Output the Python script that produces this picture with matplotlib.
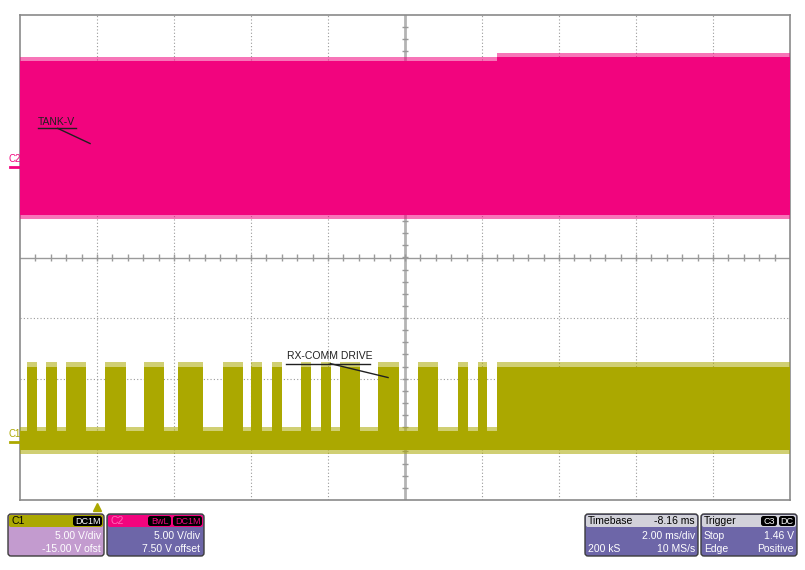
import matplotlib.pyplot as plt
import matplotlib.patches as patches
import numpy as np

# screen is 10 x 8 divisions, values below are in divisions
c1_color = '#aba800'
c2_color = '#f2047e'

# C2 (TANK-V) envelope
c2_top = 3.24
c2_top_right = 3.30
c2_bot = 0.70
c2_spike = 0.07
c2_change = 6.19

# C1 (RX-COMM DRIVE) bursts
burst_start = [0.09, 0.34, 0.60, 1.10, 1.61, 2.05, 2.64, 3.00, 3.27, 3.65, 3.91, 4.16, 4.65, 5.17, 5.69, 5.95, 6.19]
burst_end = [0.22, 0.48, 0.86, 1.38, 1.87, 2.38, 2.90, 3.14, 3.40, 3.78, 4.04, 4.42, 4.92, 5.43, 5.82, 6.06, 10.0]
c1_base_top = -2.86
c1_base_bot = -3.17
c1_burst_top = -1.80
c1_spike = 0.07

W, H = 805, 570
fig = plt.figure(figsize=(W / 100, H / 100), dpi=100)
fig.patch.set_facecolor('white')
plt.rcParams['font.family'] = ['Liberation Sans', 'DejaVu Sans']

ax = fig.add_axes([20 / W, 1 - 500 / H, 770 / W, 485 / H])
ax.set_xlim(0, 10)
ax.set_ylim(-4, 4)
ax.set_xticks([])
ax.set_yticks([])
for s in ax.spines.values():
    s.set_color('#8a8a8a')
    s.set_linewidth(1.2)

# graticule
for gx in range(1, 10):
    if gx != 5:
        ax.axvline(gx, color='#9a9a9a', lw=0.8, ls=(0, (1, 2)), zorder=1)
for gy in range(-3, 4):
    if gy != 0:
        ax.axhline(gy, color='#9a9a9a', lw=0.8, ls=(0, (1, 2)), zorder=1)
ax.axvline(5, color='#b4b4b4', lw=2, zorder=1)
ax.axhline(0, color='#9a9a9a', lw=1, zorder=1)
mx = np.arange(0.2, 10, 0.2)
my = np.arange(-3.8, 4, 0.2)
ax.vlines(mx, -0.05, 0.05, color='#9a9a9a', lw=1, zorder=1)
ax.hlines(my, 4.96, 5.04, color='#9a9a9a', lw=1, zorder=1)

# C2 trace
fringe = 0.55
ax.fill_between([0, c2_change], c2_bot, c2_top, color=c2_color, lw=0, zorder=3)
ax.fill_between([c2_change, 10], c2_bot, c2_top_right, color=c2_color, lw=0, zorder=3)
ax.fill_between([0, c2_change], c2_top, c2_top + c2_spike, color=c2_color, alpha=fringe, lw=0, zorder=3)
ax.fill_between([c2_change, 10], c2_top_right, c2_top_right + c2_spike, color=c2_color, alpha=fringe, lw=0, zorder=3)
ax.fill_between([0, 10], c2_bot - c2_spike, c2_bot, color=c2_color, alpha=fringe, lw=0, zorder=3)

# C1 trace
ax.fill_between([0, 10], c1_base_bot, c1_base_top, color=c1_color, lw=0, zorder=3)
ax.fill_between([0, 10], c1_base_bot - c1_spike, c1_base_bot, color=c1_color, alpha=fringe, lw=0, zorder=3)
ax.fill_between([0, 10], c1_base_top, c1_base_top + c1_spike, color=c1_color, alpha=fringe, lw=0, zorder=3)
for s, e in zip(burst_start, burst_end):
    ax.fill_between([s, e], c1_base_top, c1_burst_top, color=c1_color, lw=0, zorder=3)
    ax.fill_between([s, e], c1_burst_top, c1_burst_top + c1_spike, color=c1_color, alpha=fringe, lw=0, zorder=3)

# annotations
ax.text(0.23, 2.23, 'TANK-V', fontsize=7.5, color='#202020', va='center', zorder=5)
ax.plot([0.23, 0.73], [2.13, 2.13], color='#202020', lw=1, zorder=5)
ax.plot([0.49, 0.91], [2.13, 1.88], color='#202020', lw=1, zorder=5)
ax.text(3.47, -1.63, 'RX-COMM DRIVE', fontsize=7.5, color='#202020', va='center', zorder=5)
ax.plot([3.45, 4.55], [-1.75, -1.75], color='#202020', lw=1, zorder=5)
ax.plot([4.03, 4.78], [-1.75, -1.98], color='#202020', lw=1, zorder=5)

# overlay in pixel coordinates
ov = fig.add_axes([0, 0, 1, 1])
ov.set_xlim(0, W)
ov.set_ylim(H, 0)
ov.axis('off')
ov.patch.set_alpha(0)

ov.text(8, 159, 'C2', fontsize=7, color=c2_color, va='center')
ov.plot([10, 20], [167, 167], color=c2_color, lw=2)
ov.text(8, 434, 'C1', fontsize=7, color=c1_color, va='center')
ov.plot([10, 20], [442, 442], color=c1_color, lw=2)
ov.plot(97, 507, marker='^', color=c1_color, ms=6)


def box(x0, x1, head_color, body_color):
    ov.add_patch(patches.FancyBboxPatch((x0, 514), x1 - x0, 42, boxstyle='round,pad=0,rounding_size=3',
                                        fc=body_color, ec='#3c3c3c', lw=1))
    ov.add_patch(patches.FancyBboxPatch((x0 + 1, 515), x1 - x0 - 2, 12, boxstyle='round,pad=0,rounding_size=2',
                                        fc=head_color, ec='none'))


def tag(x0, x1, label, color):
    ov.add_patch(patches.FancyBboxPatch((x0, 516), x1 - x0, 10, boxstyle='round,pad=0,rounding_size=2.5',
                                        fc='black', ec='none'))
    ov.text((x0 + x1) / 2, 521.5, label, fontsize=6.5, color=color, ha='center', va='center')


fs = 7.5
box(8, 104, c1_color, '#c39bcf')
ov.text(11, 521.5, 'C1', fontsize=fs, color='black', va='center')
tag(73, 102, 'DC1M', 'white')
ov.text(101, 536, '5.00 V/div', fontsize=fs, color='white', ha='right', va='center')
ov.text(101, 549, '-15.00 V ofst', fontsize=fs, color='white', ha='right', va='center')

box(107, 204, c2_color, '#6d66a8')
ov.text(110, 521.5, 'C2', fontsize=fs, color='#ff6ab8', va='center')
tag(148, 171, 'BwL', c2_color)
tag(173, 202, 'DC1M', c2_color)
ov.text(200, 536, '5.00 V/div', fontsize=fs, color='white', ha='right', va='center')
ov.text(200, 549, '7.50 V offset', fontsize=fs, color='white', ha='right', va='center')

box(585, 698, '#d2d2da', '#6d66a8')
ov.text(588, 521.5, 'Timebase', fontsize=fs, color='black', va='center')
ov.text(695, 521.5, '-8.16 ms', fontsize=fs, color='black', ha='right', va='center')
ov.text(695, 536, '2.00 ms/div', fontsize=fs, color='white', ha='right', va='center')
ov.text(588, 549, '200 kS', fontsize=fs, color='white', va='center')
ov.text(695, 549, '10 MS/s', fontsize=fs, color='white', ha='right', va='center')

box(701, 797, '#d2d2da', '#6d66a8')
ov.text(704, 521.5, 'Trigger', fontsize=fs, color='black', va='center')
tag(761, 777, 'C3', 'white')
tag(779, 795, 'DC', 'white')
ov.text(704, 536, 'Stop', fontsize=fs, color='white', va='center')
ov.text(794, 536, '1.46 V', fontsize=fs, color='white', ha='right', va='center')
ov.text(704, 549, 'Edge', fontsize=fs, color='white', va='center')
ov.text(794, 549, 'Positive', fontsize=fs, color='white', ha='right', va='center')

fig.savefig('out.png', dpi=100)
